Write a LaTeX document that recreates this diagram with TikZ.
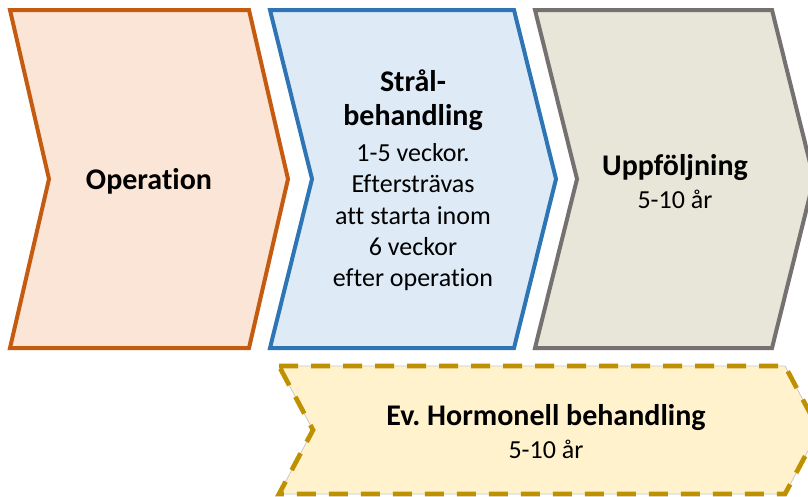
\documentclass[tikz,border=0pt]{standalone}
\usepackage{fontspec}
\setmainfont[Ligatures=NoCommon]{Carlito}
\frenchspacing
\definecolor{oline}{HTML}{C55A11}
\definecolor{ofill}{HTML}{FBE5D6}
\definecolor{bline}{HTML}{2E75B6}
\definecolor{bfill}{HTML}{DEEBF7}
\definecolor{gline}{HTML}{767171}
\definecolor{gfill}{HTML}{E8E6D8}
\definecolor{yline}{HTML}{BF9000}
\definecolor{yfill}{HTML}{FFF2CC}
\definecolor{edgegray}{HTML}{C8C8C8}
\begin{document}
\begin{tikzpicture}[x=1pt,y=-1pt,
  chev/.style={line width=4pt, line join=miter, miter limit=10},
  ttl/.style={anchor=base, inner sep=0pt, font=\bfseries\fontsize{30}{33}\selectfont},
  txt/.style={anchor=base, inner sep=0pt, font=\fontsize{26}{31}\selectfont}]
\useasboundingbox (0,0) rectangle (808,496);
\clip (0,0) rectangle (808,496);
% chevrons
\draw[chev, draw=oline, fill=ofill] (10,10) -- (249,10) -- (288,179) -- (249,348) -- (10,348) -- (49,179) -- cycle;
\draw[chev, draw=bline, fill=bfill] (270,10) -- (514,10) -- (556,179) -- (514,348) -- (270,348) -- (312,179) -- cycle;
\draw[chev, draw=gline, fill=gfill] (535,10) -- (772,10) -- (814,179) -- (772,348) -- (535,348) -- (577,179) -- cycle;
\fill[yfill] (279,366) -- (785,366) -- (819,430) -- (785,494) -- (279,494) -- (313,430) -- cycle;
\draw[draw=edgegray, line width=0.8pt] (279,366) -- (785,366) -- (819,430) -- (785,494) -- (279,494) -- (313,430) -- cycle;
\draw[draw=yline, line width=4.7pt, line join=miter, dash pattern=on 19pt off 13pt] (279,366) -- (785,366) -- (819,430) -- (785,494) -- (279,494) -- (313,430) -- cycle;
% texts
\node[ttl] (op) at (149,189) {Operation};
\node[ttl] (s1) at (413,91.7) {Strål-};
\node[ttl] (s2) at (413,125) {behandling};
\node[txt] (s3) at (413,161.5) {1-5 veckor.};
\node[txt] (s4) at (413,192.5) {Eftersträvas};
\node[txt] (s5) at (413,224) {att starta inom};
\node[txt] (s6) at (413,255.5) {6 veckor};
\node[txt] (s7) at (413,286.5) {efter operation};
\node[ttl] (u1) at (675,175) {Uppföljning};
\node[txt] (u2) at (675,208) {5-10 år};
\node[ttl] (h1) at (546,425) {Ev. Hormonell behandling};
\node[txt] (h2) at (546,458) {5-10 år};
\end{tikzpicture}
\end{document}
